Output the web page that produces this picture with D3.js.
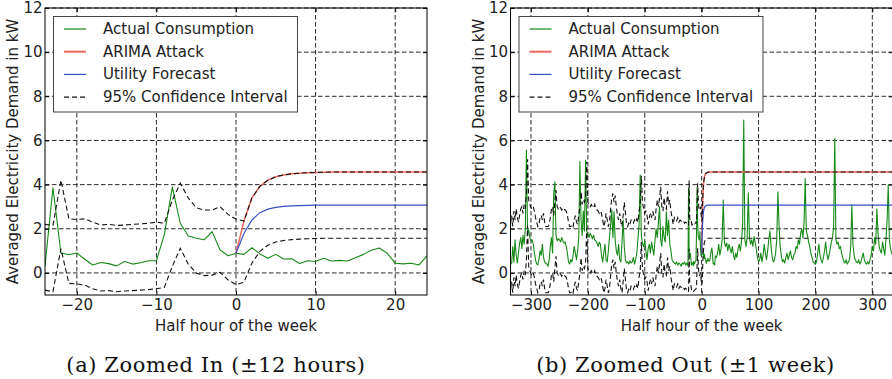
<!DOCTYPE html>
<html>
<head>
<meta charset="utf-8">
<script src="https://cdn.jsdelivr.net/npm/d3@7"></script>
<style>
  html, body { margin: 0; padding: 0; background: #fff; }
  svg { display: block; }
</style>
</head>
<body>
<script>
// ---------------- data (x = half hour of the week, 0 = start of the attack) ----------------

// Half-hourly actual consumption, x = -24 .. 24
const demandDetail = [
  0.32, 3.86, 0.90, 0.82, 0.90, 0.62, 0.36, 0.47, 0.42, 0.32, 0.52, 0.40, 0.46, 0.55, 0.55, 1.75,
  3.89, 2.25, 1.67, 1.57, 1.50, 1.87, 1.04, 0.78,
  0.89,
  0.84, 1.14, 0.86, 0.66, 0.84, 0.63, 0.64, 0.43, 0.55, 0.52, 0.66, 0.54, 0.57, 0.54, 0.69, 0.84,
  1.03, 1.13, 0.89, 0.44, 0.41, 0.44, 0.36, 0.77
];

// 95% confidence interval before the attack, x = -24 .. 0
const upperDetail = [
  2.20, 2.15, 4.20, 2.45, 2.42, 2.45, 2.30, 2.17, 2.20, 2.15, 2.17, 2.20, 2.22, 2.25, 2.30, 2.25,
  3.30, 4.06, 3.40, 2.95, 2.85, 2.85, 3.00, 2.65, 2.44
];
const lowerDetail = [
  -0.78, -0.85, 1.10, -0.47, -0.50, -0.55, -0.72, -0.82, -0.80, -0.85, -0.82, -0.80, -0.78, -0.75, -0.72, -0.65,
  0.30, 1.12, 0.40, 0.00, -0.12, -0.10, 0.03, -0.32, -0.53
];

// ARIMA attack and utility forecast, x = 0 .. 24
const attackAfter = [
  0.89, 2.35, 3.40, 3.92, 4.20, 4.36, 4.44, 4.49, 4.52, 4.54, 4.55, 4.56, 4.57, 4.57, 4.57, 4.57,
  4.57, 4.57, 4.57, 4.57, 4.57, 4.57, 4.57, 4.57, 4.57
];
const forecastAfter = [
  0.89, 1.79, 2.40, 2.73, 2.89, 2.97, 3.01, 3.04, 3.05, 3.06, 3.07, 3.07, 3.07, 3.07, 3.07, 3.07,
  3.07, 3.07, 3.07, 3.07, 3.07, 3.07, 3.07, 3.07, 3.07
];
// Confidence interval after the attack starts, x = 1 .. 24
const upperAfter = [
  2.35, 3.40, 3.92, 4.20, 4.36, 4.44, 4.49, 4.52, 4.54, 4.55, 4.56, 4.57, 4.57, 4.57, 4.57, 4.57,
  4.57, 4.57, 4.57, 4.57, 4.57, 4.57, 4.57, 4.57
];
const lowerAfter = [
  -0.42, 0.45, 0.98, 1.25, 1.40, 1.47, 1.51, 1.53, 1.55, 1.56, 1.57, 1.57, 1.57, 1.57, 1.57, 1.57,
  1.57, 1.57, 1.57, 1.57, 1.57, 1.57, 1.57, 1.57
];
// Values held until the end of the week (x = 336)
const weekEnd = 336;
const attackPlateau = 4.57;
const forecastPlateau = 3.07;
const upperPlateau = 4.57;
const lowerPlateau = 1.57;

// Hourly actual consumption for the rest of the week
// before: x = -336, -334, ..., -26      after: x = 26, 28, ..., 336
const demandWeekBefore = [
  0.45, 0.42, 1.20, 0.50, 1.50, 0.80, 0.45, 0.90,
  1.35, 1.60, 1.10, 1.70, 1.30, 2.00, 5.57, 1.80,
  1.95, 1.60, 1.45, 1.50, 1.30, 0.90, 0.60, 0.40,
  0.37, 0.60, 1.00, 0.80, 1.30, 0.70, 0.50, 0.45,
  0.40, 0.30, 0.60, 1.20, 1.60, 0.90, 3.60, 4.13,
  1.70, 1.45, 1.55, 1.50, 1.40, 1.60, 1.45, 1.35,
  1.40, 1.20, 0.90, 0.50, 0.40, 0.60, 0.50, 0.80,
  1.20, 0.90, 0.60, 1.00, 1.60, 5.04, 2.40, 1.70,
  2.80, 1.90, 5.10, 1.90, 1.75, 1.60, 1.80, 1.70,
  1.55, 1.70, 1.50, 1.45, 1.35, 1.20, 1.40, 1.30,
  0.80, 0.50, 0.90, 1.30, 0.60, 0.50, 1.00, 1.60,
  2.20, 2.85, 1.60, 2.77, 1.50, 1.00, 0.80, 1.30,
  0.60, 0.50, 1.40, 2.40, 1.20, 0.60, 0.45, 0.50,
  0.40, 0.55, 0.45, 0.50, 0.70, 0.40, 0.60, 0.90,
  1.50, 2.20, 4.43, 1.70, 1.30, 1.20, 1.45, 1.00,
  0.60, 1.10, 1.30, 0.90, 1.40, 1.10, 0.80, 1.50,
  2.00, 1.60, 2.30, 3.00, 1.50, 1.20, 2.10, 1.60,
  1.40, 2.77, 1.70, 2.40, 1.30, 1.00, 0.60, 0.50,
  0.45, 0.40, 0.50, 0.35, 0.45, 0.40, 0.30, 0.45,
  0.40, 0.50, 0.35, 0.45
];
const demandWeekAfter = [
  0.70, 0.90, 1.30, 0.80, 1.10, 1.50, 3.30, 1.40,
  1.20, 1.35, 1.00, 1.30, 1.10, 0.90, 1.20, 0.80,
  0.60, 0.90, 0.70, 1.10, 1.30, 1.00, 1.40, 2.20,
  6.92, 1.50, 1.20, 1.60, 3.63, 1.60, 1.30, 1.50,
  1.20, 1.65, 1.40, 1.10, 0.70, 0.50, 0.60, 0.90,
  0.50, 0.80, 1.30, 0.90, 0.60, 1.00, 1.50, 1.90,
  1.20, 0.70, 0.50, 0.60, 0.90, 1.50, 3.68, 2.20,
  1.20, 0.80, 0.50, 0.60, 0.45, 0.70, 0.90, 0.60,
  0.80, 1.00, 0.70, 0.60, 0.81, 0.90, 1.20, 1.10,
  1.50, 1.30, 1.80, 2.00, 1.60, 2.30, 4.28, 1.90,
  1.70, 1.40, 1.20, 0.90, 0.70, 0.50, 0.45, 0.40,
  0.50, 0.90, 1.30, 0.80, 0.60, 0.45, 0.70, 1.00,
  1.40, 0.90, 0.60, 0.80, 1.10, 1.40, 1.60, 2.10,
  6.10, 1.50, 1.30, 1.40, 1.10, 1.20, 0.90, 0.70,
  0.50, 0.45, 0.60, 0.40, 0.50, 0.60, 1.20, 3.07,
  1.30, 0.80, 0.60, 0.50, 0.45, 0.60, 0.40, 0.50,
  0.70, 0.90, 0.60, 0.45, 0.40, 0.50, 0.40, 0.60,
  0.80, 1.20, 1.00, 1.60, 1.30, 2.90, 1.80, 1.20,
  1.00, 0.90, 1.40, 1.10, 0.80, 1.50, 2.40, 4.00,
  1.50, 1.10, 0.90, 0.80
];

// Hourly 95% confidence interval, x = -336, -334, ..., -26
const upperWeekBefore = [
  2.20, 2.60, 2.10, 2.80, 2.40, 2.90, 2.50, 2.30,
  2.60, 2.90, 3.00, 2.70, 3.10, 2.90, 3.60, 5.15,
  3.30, 3.10, 2.95, 2.90, 3.00, 2.80, 2.50, 2.30,
  2.10, 2.20, 2.50, 2.60, 2.40, 2.70, 2.30, 2.10,
  2.10, 2.10, 2.20, 2.50, 2.90, 3.00, 2.60, 3.20,
  3.75, 3.00, 2.90, 3.00, 2.95, 2.85, 2.95, 2.90,
  2.85, 2.80, 2.60, 2.30, 2.10, 2.10, 2.20, 2.10,
  2.40, 2.60, 2.30, 2.20, 2.60, 3.00, 3.68, 3.10,
  3.30, 3.20, 3.50, 5.04, 3.20, 3.10, 3.00, 3.10,
  3.00, 2.95, 3.10, 2.90, 2.85, 2.80, 2.70, 2.80,
  2.70, 2.40, 2.10, 2.30, 2.70, 2.40, 2.10, 2.30,
  2.90, 3.40, 3.60, 3.20, 3.50, 3.00, 2.60, 2.40,
  2.70, 2.30, 2.10, 2.60, 3.20, 2.70, 2.20, 2.10,
  2.30, 2.20, 2.40, 2.30, 2.25, 2.40, 2.30, 2.45,
  2.30, 2.80, 3.10, 4.40, 3.20, 2.90, 2.70, 2.80,
  2.60, 2.20, 2.50, 2.70, 2.50, 2.80, 2.60, 2.40,
  2.90, 3.30, 3.00, 3.40, 3.90, 3.00, 2.80, 3.40,
  3.00, 2.90, 3.70, 3.10, 3.30, 2.80, 2.50, 2.20,
  2.50, 2.40, 2.35, 2.50, 2.30, 2.40, 2.35, 2.30,
  2.35, 2.25, 2.30, 2.25
];
const lowerWeekBefore = [
  -0.80, -0.40, -0.90, -0.20, -0.60, -0.10, -0.50, -0.70,
  -0.40, -0.10, 0.00, -0.30, 0.10, -0.10, 0.60, 2.15,
  0.30, 0.10, -0.05, -0.10, 0.00, -0.20, -0.50, -0.70,
  -0.90, -0.80, -0.50, -0.40, -0.60, -0.30, -0.70, -0.90,
  -0.90, -0.90, -0.80, -0.50, -0.10, 0.00, -0.40, 0.20,
  0.75, 0.00, -0.10, 0.00, -0.05, -0.15, -0.05, -0.10,
  -0.15, -0.20, -0.40, -0.70, -0.90, -0.90, -0.80, -0.90,
  -0.60, -0.40, -0.70, -0.80, -0.40, 0.00, 0.68, 0.10,
  0.30, 0.20, 0.50, 2.04, 0.20, 0.10, 0.00, 0.10,
  0.00, -0.05, 0.10, -0.10, -0.15, -0.20, -0.30, -0.20,
  -0.30, -0.60, -0.90, -0.70, -0.30, -0.60, -0.90, -0.70,
  -0.10, 0.40, 0.60, 0.20, 0.50, 0.00, -0.40, -0.60,
  -0.30, -0.70, -0.90, -0.40, 0.20, -0.30, -0.80, -0.90,
  -0.70, -0.80, -0.60, -0.70, -0.75, -0.60, -0.70, -0.55,
  -0.70, -0.20, 0.10, 1.40, 0.20, -0.10, -0.30, -0.20,
  -0.40, -0.80, -0.50, -0.30, -0.50, -0.20, -0.40, -0.60,
  -0.10, 0.30, 0.00, 0.40, 0.90, 0.00, -0.20, 0.40,
  0.00, -0.10, 0.70, 0.10, 0.30, -0.20, -0.50, -0.80,
  -0.50, -0.60, -0.65, -0.50, -0.70, -0.60, -0.65, -0.70,
  -0.65, -0.75, -0.70, -0.75
];

const yTickValues = [0, 2, 4, 6, 8, 10, 12];
const zoomInTicks = [-20, -10, 0, 10, 20];
const zoomOutTicks = [-300, -200, -100, 0, 100, 200, 300];
const legendLabels = ["Actual Consumption", "ARIMA Attack", "Utility Forecast", "95% Confidence Interval"];
const captions = ["(a) Zoomed In (\u00b112 hours)", "(b) Zoomed Out (\u00b11 week)"];
const xLabel = "Half hour of the week";
const yLabel = "Averaged Electricity Demand in kW";

// ---------------- series assembly ----------------
const pts = (arr, x0, step) => arr.map((v, i) => [x0 + i * step, v]);

const actualSeries = [
  ...pts(demandWeekBefore, -336, 2),
  ...pts(demandDetail, -24, 1),
  ...pts(demandWeekAfter, 26, 2)
];
const attackSeries = [...pts(attackAfter, 0, 1), [weekEnd, attackPlateau]];
const forecastSeries = [...pts(forecastAfter, 0, 1), [weekEnd, forecastPlateau]];
const upperSeries = [
  ...pts(upperWeekBefore, -336, 2),
  ...pts(upperDetail, -24, 1),
  ...pts(upperAfter, 1, 1),
  [weekEnd, upperPlateau]
];
const lowerSeries = [
  ...pts(lowerWeekBefore, -336, 2),
  ...pts(lowerDetail, -24, 1),
  ...pts(lowerAfter, 1, 1),
  [weekEnd, lowerPlateau]
];

// ---------------- drawing ----------------
const W = 892, H = 379;
const FONT = "DejaVu Sans, Bitstream Vera Sans, sans-serif";
const SERIF = "DejaVu Serif, Liberation Serif, serif";
const COLORS = { actual: "#168a16", attack: "#f0675c", forecast: "#3550c2", ci: "#111" };

const svg = d3.select("body").append("svg")
  .attr("width", W).attr("height", H)
  .attr("viewBox", `0 0 ${W} ${H}`);

const y = d3.scaleLinear().domain([-1, 12]).range([295, 8]);

const panels = [
  { id: "a", range: [45, 427], domain: [-24, 24], ticks: zoomInTicks, yLabelX: 17.7, captionX: 216, caption: captions[0] },
  { id: "b", range: [510.5, 892.8], domain: [-336, 336], ticks: zoomOutTicks, yLabelX: 484.3, captionX: 685.5, caption: captions[1] }
];

panels.forEach(p => {
  const x = d3.scaleLinear().domain(p.domain).range(p.range);
  const [x0, x1] = p.range;
  const [yb, yt] = y.range();
  const g = svg.append("g");

  g.append("clipPath").attr("id", "clip-" + p.id)
    .append("rect").attr("x", x0).attr("y", yt).attr("width", x1 - x0).attr("height", yb - yt);

  // grid
  const grid = g.append("g").attr("stroke", "#111").attr("stroke-width", 0.9)
    .attr("stroke-dasharray", "4.5,2.5").attr("fill", "none");
  grid.selectAll("line.v").data(p.ticks).join("line").attr("class", "v")
    .attr("x1", d => x(d)).attr("x2", d => x(d)).attr("y1", yt).attr("y2", yb);
  grid.selectAll("line.h").data(yTickValues).join("line").attr("class", "h")
    .attr("x1", x0).attr("x2", x1).attr("y1", d => y(d)).attr("y2", d => y(d));

  // series
  const line = d3.line().x(d => x(d[0])).y(d => y(d[1]));
  const plot = g.append("g").attr("clip-path", `url(#clip-${p.id})`).attr("fill", "none");
  plot.append("path").datum(actualSeries).attr("d", line)
    .attr("stroke", COLORS.actual).attr("stroke-width", 1.1).attr("stroke-linejoin", "round");
  plot.append("path").datum(attackSeries).attr("d", line)
    .attr("stroke", COLORS.attack).attr("stroke-width", 1.5);
  plot.append("path").datum(forecastSeries).attr("d", line)
    .attr("stroke", COLORS.forecast).attr("stroke-width", 1.2);
  [upperSeries, lowerSeries].forEach(s => {
    plot.append("path").datum(s).attr("d", line)
      .attr("stroke", COLORS.ci).attr("stroke-width", 1.1).attr("stroke-dasharray", "5,3");
  });

  // axes with inward ticks on all four sides
  const styleAxis = sel => {
    sel.select(".domain").remove();
    sel.selectAll(".tick line").attr("stroke", "#000");
    sel.selectAll("text").attr("fill", "#222").attr("font-family", FONT).attr("font-size", 15);
  };
  g.append("g").attr("transform", `translate(0,${yb})`)
    .call(d3.axisBottom(x).tickValues(p.ticks).tickSizeInner(-4).tickSizeOuter(0).tickPadding(4.5))
    .call(styleAxis);
  g.append("g").attr("transform", `translate(0,${yt})`)
    .call(d3.axisTop(x).tickValues(p.ticks).tickSizeInner(-4).tickSizeOuter(0).tickFormat(""))
    .call(styleAxis);
  g.append("g").attr("transform", `translate(${x0},0)`)
    .call(d3.axisLeft(y).tickValues(yTickValues).tickSizeInner(-4).tickSizeOuter(0).tickPadding(2.5))
    .call(styleAxis);
  g.append("g").attr("transform", `translate(${x1},0)`)
    .call(d3.axisRight(y).tickValues(yTickValues).tickSizeInner(-4).tickSizeOuter(0).tickFormat(""))
    .call(styleAxis);

  // frame
  g.append("rect").attr("x", x0).attr("y", yt).attr("width", x1 - x0).attr("height", yb - yt)
    .attr("fill", "none").attr("stroke", "#000").attr("stroke-width", 1);

  // axis titles
  g.append("text").attr("x", (x0 + x1) / 2).attr("y", 331)
    .attr("text-anchor", "middle").attr("font-family", FONT).attr("font-size", 15).attr("fill", "#222")
    .text(xLabel);
  g.append("text")
    .attr("transform", `translate(${p.yLabelX},${(yt + yb) / 2}) rotate(-90)`)
    .attr("text-anchor", "middle").attr("font-family", FONT).attr("font-size", 15).attr("fill", "#222")
    .text(yLabel);

  // legend
  const lx = x0 + 8, ly = 16;
  const leg = g.append("g");
  leg.append("rect").attr("x", lx + 0.5).attr("y", ly + 0.5).attr("width", 244).attr("height", 95.5)
    .attr("fill", "#fff").attr("stroke", "#444").attr("stroke-width", 1);
  const legendStyles = [
    { color: COLORS.actual, width: 1.2, dash: null },
    { color: COLORS.attack, width: 2, dash: null },
    { color: COLORS.forecast, width: 1.2, dash: null },
    { color: COLORS.ci, width: 1.1, dash: "5,3" }
  ];
  legendLabels.forEach((lab, i) => {
    const by = ly + 18 + i * 22.7;
    const st = legendStyles[i];
    leg.append("line").attr("x1", lx + 11).attr("x2", lx + 33).attr("y1", by - 5).attr("y2", by - 5)
      .attr("stroke", st.color).attr("stroke-width", st.width).attr("stroke-dasharray", st.dash);
    leg.append("text").attr("x", lx + 50).attr("y", by)
      .attr("font-family", FONT).attr("font-size", 15).attr("fill", "#222").text(lab);
  });

  // caption
  svg.append("text").attr("x", p.captionX).attr("y", 371.5)
    .attr("text-anchor", "middle").attr("font-family", SERIF)
    .attr("font-size", 21).attr("letter-spacing", 0.6).attr("fill", "#111").text(p.caption);
});
</script>
</body>
</html>
